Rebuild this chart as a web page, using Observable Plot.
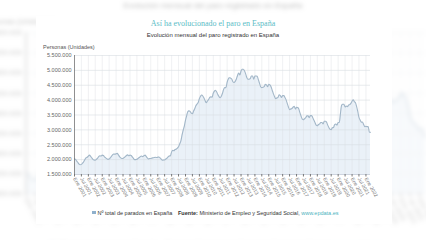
<!DOCTYPE html>
<html><head><meta charset="utf-8">
<script src="https://cdn.jsdelivr.net/npm/d3@7"></script>
<script src="https://cdn.jsdelivr.net/npm/@observablehq/plot@0.6"></script>
<style>
html,body{margin:0;padding:0;background:#fff;}
#frame{position:relative;width:426px;height:240px;overflow:hidden;background:#fff;font-family:"Liberation Sans",Arial,sans-serif;}
.layer{position:absolute;left:0;top:0;width:426px;height:240px;}
.bg{transform:scale(1.35);transform-origin:213px 120px;filter:blur(1.6px);opacity:0.33;}
.card{position:absolute;left:36px;top:16px;width:356px;height:208px;background:#fff;}
.t{position:absolute;white-space:nowrap;line-height:1;}
.title{left:0;width:426px;top:20px;text-align:center;font-family:"Liberation Serif","DejaVu Serif",serif;font-size:8px;color:#5bbcc6;}
.sub{left:0;width:426px;top:31.5px;text-align:center;font-size:6px;color:#333;}
.ylab{left:43px;top:45px;font-size:5.5px;color:#555;}
.leg{left:92px;top:210.5px;font-size:5.5px;color:#333;}
.leg i{display:inline-block;width:3.5px;height:3.5px;background:#8fb0cc;margin-right:2px;vertical-align:0.2px;}
.src{left:178px;top:210.5px;font-size:5.5px;color:#333;}
.src b{font-weight:bold;}
.src span{color:#4db3be;}
svg{position:absolute;left:0;top:0;overflow:visible;}
</style></head>
<body><div id="frame"></div>
<script>
const titleText = "Así ha evolucionado el paro en España";
const subtitleText = "Evolución mensual del paro registrado en España";
const yAxisTitle = "Personas (Unidades)";
const legendText = "Nº total de parados en España";
const sourceLabel = "Fuente:";
const sourceText = " Ministerio de Empleo y Seguridad Social, ";
const sourceLink = "www.epdata.es";

const monthNames = ["Ene","Feb","Mar","Abr","May","Jun","Jul","Ago","Sep","Oct","Nov","Dic"];
const years = [2001,2002,2003,2004,2005,2006,2007,2008,2009,2010,2011,2012,2013,2014,2015,2016,2017,2018,2019,2020,2021,2022];
// Paro registrado, miles de personas
const p2001 = [2030,2000,1950,1900,1850,1830,1840,1880,1930,2000,2060,2080];
const p2002 = [2120,2150,2110,2060,2010,1985,1980,2010,2050,2100,2130,2120];
const p2003 = [2150,2140,2090,2060,2030,2010,2020,2060,2110,2160,2190,2180];
const p2004 = [2200,2210,2160,2100,2060,2040,2040,2070,2100,2140,2160,2130];
const p2005 = [2150,2140,2090,2040,2000,2000,2010,2040,2070,2100,2120,2100];
const p2006 = [2130,2150,2110,2060,2020,2040,2040,2050,2060,2070,2080,2070];
const p2007 = [2080,2090,2060,2020,1980,1985,1990,2020,2050,2090,2120,2130];
const p2008 = [2260,2310,2300,2340,2350,2390,2430,2530,2630,2820,2990,3130];
const p2009 = [3330,3480,3610,3640,3620,3560,3540,3630,3710,3810,3870,3920];
const p2010 = [4050,4130,4170,4140,4070,3980,3910,3970,4020,4090,4110,4100];
const p2011 = [4230,4300,4330,4270,4190,4120,4080,4130,4230,4360,4420,4420];
const p2012 = [4600,4710,4750,4740,4710,4620,4590,4630,4710,4830,4910,4850];
const p2013 = [4980,5040,5040,4990,4890,4760,4700,4700,4720,4810,4810,4700];
const p2014 = [4810,4810,4800,4690,4570,4450,4420,4430,4450,4530,4510,4450];
const p2015 = [4530,4510,4450,4330,4220,4120,4050,4070,4090,4180,4150,4090];
const p2016 = [4150,4150,4090,4010,3890,3770,3680,3700,3720,3760,3790,3700];
const p2017 = [3760,3750,3700,3570,3460,3360,3340,3380,3410,3470,3470,3410];
const p2018 = [3480,3480,3420,3330,3250,3160,3140,3180,3200,3250,3250,3200];
const p2019 = [3290,3290,3260,3160,3080,3020,3010,3070,3080,3180,3200,3160];
const p2020 = [3250,3250,3550,3830,3860,3860,3770,3800,3780,3830,3850,3890];
const p2021 = [3960,4010,3950,3910,3780,3610,3420,3330,3260,3260,3180,3110];
const p2022 = [3120,3110,3110,2920,2920];
const parados = [p2001,p2002,p2003,p2004,p2005,p2006,p2007,p2008,p2009,p2010,p2011,p2012,p2013,p2014,p2015,p2016,p2017,p2018,p2019,p2020,p2021,p2022];
const yTicks = [1500000,2000000,2500000,3000000,3500000,4000000,4500000,5000000,5500000];

const data = [];
years.forEach((yr, i) => parados[i].forEach((v, m) => data.push({date: new Date(yr, m, 1), value: v * 1000, label: monthNames[m] + " " + yr})));
const tickRows = data.filter(d => d.date.getMonth() % 6 === 0);
const tickDates = tickRows.map(d => d.date);
const tickLabel = new Map(tickRows.map(d => [+d.date, d.label]));
const es = d3.formatLocale({decimal: ",", thousands: ".", grouping: [3], currency: ["", "€"]});
const fmt = es.format(",");

function buildChart() {
  return Plot.plot({
    width: 426, height: 214,
    marginLeft: 74, marginRight: 56, marginTop: 55, marginBottom: 40,
    style: {background: "transparent", fontFamily: "Liberation Sans, Arial, sans-serif", overflow: "visible"},
    x: {type: "time", domain: [data[0].date, data[data.length - 1].date]},
    y: {domain: [1500000, 5500000]},
    marks: [
      Plot.areaY(data, {x: "date", y1: 1500000, y2: "value", fill: "#eaf1f8", curve: "monotone-x"}),
      Plot.ruleX(tickDates, {stroke: "#d9dde2", strokeWidth: 0.5, strokeOpacity: 0.8}),
      Plot.ruleY(yTicks, {stroke: "#d9dde2", strokeWidth: 0.6}),
      Plot.lineY(data, {x: "date", y: "value", stroke: "#a3b7c8", strokeWidth: 1.1, curve: "monotone-x"}),
      Plot.ruleY([1500000], {stroke: "#c5cedb", strokeWidth: 0.8}),
      Plot.ruleX([data[0].date], {stroke: "#666", strokeWidth: 0.7}),
      Plot.axisY({ticks: yTicks, tickFormat: fmt, tickSize: 0, tickPadding: 3, fontSize: 5.5, color: "#666", label: null}),
      Plot.axisX({ticks: tickDates, tickFormat: d => tickLabel.get(+d), tickRotate: 60, tickSize: 2.5, tickPadding: 1, fontSize: 5, color: "#777", label: null})
    ]
  });
}

function buildLayer(cls) {
  const layer = document.createElement("div");
  layer.className = "layer " + cls;
  layer.innerHTML = `<div class="card"></div>
    <div class="t title">${titleText}</div>
    <div class="t sub">${subtitleText}</div>
    <div class="t ylab">${yAxisTitle}</div>
    <div class="t leg"><i></i>${legendText}</div>
    <div class="t src"><b>${sourceLabel}</b>${sourceText}<span>${sourceLink}</span></div>`;
  layer.appendChild(buildChart());
  return layer;
}
const frame = document.getElementById("frame");
frame.appendChild(buildLayer("bg"));
frame.appendChild(buildLayer("fg"));
</script>
</body></html>
